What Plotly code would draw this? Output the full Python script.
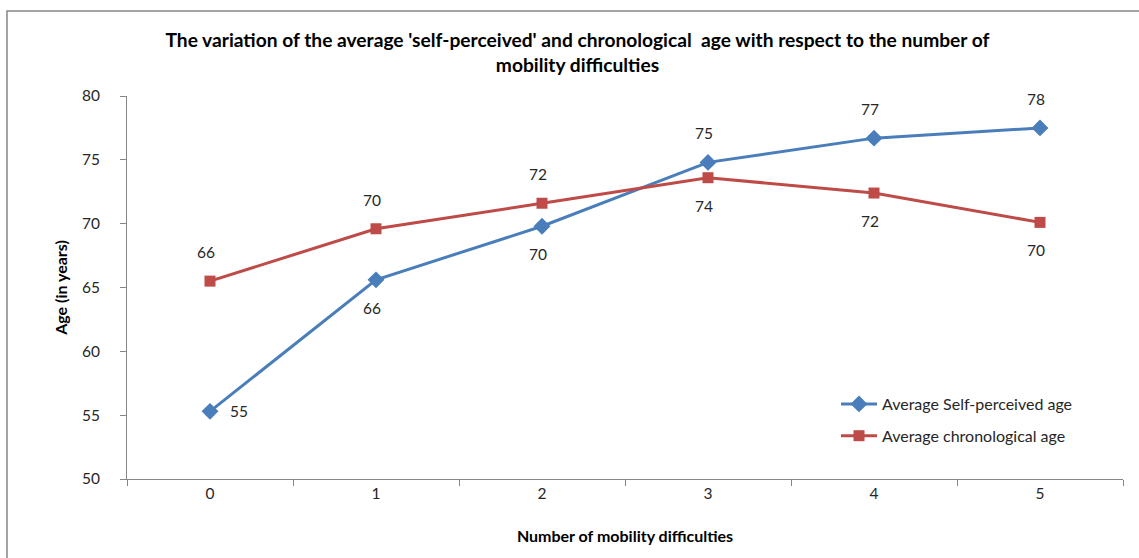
import plotly.graph_objects as go

# Number of mobility difficulties (categories)
difficulties = ["0", "1", "2", "3", "4", "5"]

# Average ages per category
self_perceived_age = [55.3, 65.6, 69.8, 74.8, 76.7, 77.5]
chronological_age = [65.5, 69.6, 71.6, 73.6, 72.4, 70.1]

# Where each value label sits relative to its marker
self_label_side = ["right", "below", "below", "above", "above", "above"]
chrono_label_side = ["above", "above", "above", "below", "below", "below"]

BLUE = "#4A7EBB"
RED = "#BE4B48"
FONT = "Lato, 'Open Sans', Arial, sans-serif"
TEXT = "#262626"

fig = go.Figure()
fig.add_trace(go.Scatter(
    x=difficulties, y=self_perceived_age, mode="lines+markers",
    name="Average Self-perceived age", legendgroup="self",
    line=dict(color=BLUE, width=3),
    marker=dict(symbol="diamond", size=13, color=BLUE),
))
fig.add_trace(go.Scatter(
    x=difficulties, y=chronological_age, mode="lines+markers",
    name="Average chronological age", legendgroup="chrono",
    line=dict(color=RED, width=3),
    marker=dict(symbol="square", size=11, color=RED),
))

annotations = []
for series, sides in ((self_perceived_age, self_label_side),
                      (chronological_age, chrono_label_side)):
    for cat, val, side in zip(difficulties, series, sides):
        shift = dict(above=dict(yshift=29, xshift=-4),
                     below=dict(yshift=-28, xshift=-4),
                     right=dict(xshift=29, yshift=0))[side]
        annotations.append(dict(
            x=cat, y=val, xref="x", yref="y", text=f"{val:.0f}",
            showarrow=False, font=dict(size=15.5, color=TEXT, family=FONT),
            **shift))

L, R, T, B = 127, 16, 96, 79
W, H = 1139, 558
pw, ph = W - L - R, H - T - B

def px(x):
    return (x - L) / pw

def py(y):
    return (H - B - y) / ph

fig.update_layout(
    width=W, height=H,
    margin=dict(l=L, r=R, t=T, b=B, autoexpand=False),
    paper_bgcolor="white", plot_bgcolor="white",
    font=dict(family=FONT, color=TEXT, size=15.5),
    title=dict(
        text="<b>The variation of the average 'self-perceived' and chronological  age with respect to the number of<br>mobility difficulties</b>",
        x=0.507, xanchor="center", xref="container",
        y=1 - 47 / H, yanchor="top", yref="container",
        font=dict(size=19.2, color="#000000", family=FONT),
    ),
    xaxis=dict(
        type="category", tickson="boundaries", ticks="outside", ticklen=6,
        range=[-0.5, 5.5], automargin=False,
        tickcolor="#868686", showline=True, linecolor="#868686", linewidth=1,
        showgrid=False, zeroline=False,
        title=dict(text="<b>Number of mobility difficulties</b>",
                   font=dict(size=16, color="#000000"), standoff=30),
        tickfont=dict(size=15.5),
    ),
    yaxis=dict(
        range=[50, 80], dtick=5, ticks="outside", ticklen=6, automargin=False,
        ticklabelstandoff=17,
        tickcolor="#868686", showline=True, linecolor="#868686", linewidth=1,
        showgrid=False, zeroline=False,
        title=dict(text="<b>Age (in years)</b>",
                   font=dict(size=16, color="#000000"), standoff=10),
        tickfont=dict(size=15.5),
    ),
    legend=dict(
        x=px(836), y=py(387), xanchor="left", yanchor="top",
        bgcolor="rgba(0,0,0,0)", font=dict(size=16, color=TEXT),
        tracegroupgap=8, itemwidth=36,
    ),
    annotations=annotations,
    shapes=[dict(
        type="rect", xref="paper", yref="paper",
        x0=px(7), x1=px(1150), y0=py(570), y1=py(11),
        line=dict(color="#868686", width=1.5), layer="below",
    )],
    showlegend=True,
)

fig.write_html("out.html")
